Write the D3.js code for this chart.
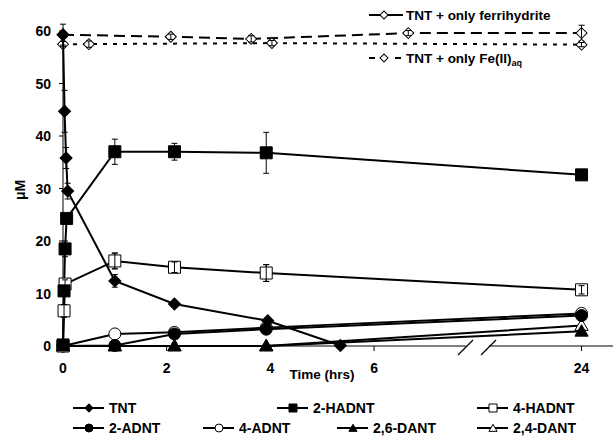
<!DOCTYPE html>
<html>
<head>
<meta charset="utf-8">
<script src="https://cdn.jsdelivr.net/npm/d3@7"></script>
<style>
  body { margin: 0; background: #fff; }
  text { font-family: "Liberation Sans", Arial, sans-serif; font-weight: bold; fill: #000; }
</style>
</head>
<body>
<script>
// time (hrs) and concentrations (uM)
var tntT = [0, 0.03, 0.06, 0.09, 1, 2.15, 3.95, 5.35],
    tntV = [59.3, 44.7, 35.8, 29.5, 12.4, 8.0, 4.8, 0.1],
    tntE = [2, 4, 2, 1.5, 1.2, 0.5, 0.5, 0];

var hadnt2T = [0, 0.02, 0.04, 0.07, 1, 2.15, 3.92, 24],
    hadnt2V = [0.2, 10.5, 18.5, 24.3, 37, 37, 36.8, 32.6],
    hadnt2E = [0, 0.5, 1.5, 0.5, 2.4, 1.6, 3.9, 0.7];

var hadnt4T = [0, 0.02, 0.04, 1, 2.15, 3.92, 24],
    hadnt4V = [0, 6.7, 11.8, 16.2, 15.0, 13.9, 10.7],
    hadnt4E = [0, 1.2, 0.8, 1.5, 1.0, 1.6, 0.8];

var adnt2T = [0, 1, 2.15, 3.92, 24],
    adnt2V = [0, 0.1, 2.3, 3.2, 5.8];
var adnt4T = [0, 1, 2.15, 3.92, 24],
    adnt4V = [0, 2.3, 2.6, 3.5, 6.2];
var dant26T = [0, 1, 2.15, 3.92, 24],
    dant26V = [0, 0, 0, 0, 2.8];
var dant24T = [0, 1, 2.15, 3.92, 24],
    dant24V = [0, 0, 0, 0, 3.9];

var ferriT = [0, 2.08, 3.63, 6.66, 24],
    ferriV = [59.3, 58.9, 58.5, 59.6, 59.6],
    ferriE = [0, 0.5, 0.6, 0.5, 1.5];
var fe2T = [0, 0.5, 4.03, 24],
    fe2V = [57.5, 57.5, 57.7, 57.4],
    fe2E = [0.5, 0.6, 0.5, 0.4];

var xTicks = [0, 2, 4, 6, 24],
    yTicks = [0, 10, 20, 30, 40, 50, 60];

var W = 613, H = 439;
var svg = d3.select("body").append("svg").attr("width", W).attr("height", H);

// broken time axis: 0..7.6 h linear, jump, then 22.35..24.6 h
var x = d3.scaleLinear().domain([0, 7.6, 22.35, 24.6]).range([63, 457, 495, 613]);
var y = d3.scaleLinear().domain([0, 60]).range([346, 31]);

function zip(t, v, e) {
    return t.map((d, i) => ({ t: d, v: v[i], e: e ? e[i] : 0 }));
}

var series = [
    { name: "TNT", data: zip(tntT, tntV, tntE), shape: "diamond", fill: "#000" },
    { name: "2-HADNT", data: zip(hadnt2T, hadnt2V, hadnt2E), shape: "square", fill: "#000" },
    { name: "4-HADNT", data: zip(hadnt4T, hadnt4V, hadnt4E), shape: "square", fill: "#fff" },
    { name: "2-ADNT", data: zip(adnt2T, adnt2V), shape: "circle", fill: "#000" },
    { name: "4-ADNT", data: zip(adnt4T, adnt4V), shape: "circle", fill: "#fff" },
    { name: "2,6-DANT", data: zip(dant26T, dant26V), shape: "triangle", fill: "#000" },
    { name: "2,4-DANT", data: zip(dant24T, dant24V), shape: "triangle", fill: "#fff" }
];
var controls = [
    { name: "ferri", data: zip(ferriT, ferriV, ferriE), dash: "11,6" },
    { name: "fe2", data: zip(fe2T, fe2V, fe2E), dash: "4,6" }
];

function marker(g, shape, fill, s) {
    var p;
    if (shape == "diamond") {
        p = g.append("path").attr("d", d3.symbol(d3.symbolSquare, s * s * 0.5)())
            .attr("transform", "rotate(45)");
    } else if (shape == "square") {
        p = g.append("path").attr("d", d3.symbol(d3.symbolSquare, s * s)());
    } else if (shape == "circle") {
        p = g.append("circle").attr("r", s / 2);
    } else {
        p = g.append("path").attr("d", d3.symbol(d3.symbolTriangle, s * s * 0.45)())
            .attr("transform", "translate(0,1)");
    }
    p.attr("fill", fill).attr("stroke", "#000").attr("stroke-width", 1);
}

function errBar(g, d) {
    if (!d.e) return;
    var y0 = y(d.v + d.e) - y(d.v), y1 = y(d.v - d.e) - y(d.v);
    g.append("line").attr("y1", y0).attr("y2", y1);
    g.append("line").attr("x1", -3).attr("x2", 3).attr("y1", y0).attr("y2", y0);
    g.append("line").attr("x1", -3).attr("x2", 3).attr("y1", y1).attr("y2", y1);
    g.selectAll("line").attr("stroke", "#000").attr("stroke-width", 1);
}

var line = d3.line().x(d => x(d.t)).y(d => y(d.v));

// axes
var ax = svg.append("g");
ax.append("line").attr("x1", x(0)).attr("x2", x(0)).attr("y1", y(0)).attr("y2", y(60))
    .attr("stroke", "#000").attr("stroke-width", 1);
var bx1 = x(7.6) + 9, bx2 = x(22.35) - 6;
ax.append("line").attr("x1", x(0)).attr("x2", bx1).attr("y1", y(0)).attr("y2", y(0))
    .attr("stroke", "#000");
ax.append("line").attr("x1", bx2).attr("x2", x(24.6)).attr("y1", y(0)).attr("y2", y(0))
    .attr("stroke", "#000");
[bx1, bx2].forEach(bx => {
    ax.append("line").attr("x1", bx - 8).attr("y1", y(0) + 9).attr("x2", bx + 7).attr("y2", y(0) - 6)
        .attr("stroke", "#000").attr("stroke-width", 1.2);
});

ax.selectAll(".xt").data(xTicks).enter().append("line")
    .attr("x1", d => x(d)).attr("x2", d => x(d)).attr("y1", y(0)).attr("y2", y(0) + 5)
    .attr("stroke", "#000");
ax.selectAll(".xl").data(xTicks).enter().append("text")
    .attr("x", d => x(d)).attr("y", y(0) + 27).attr("text-anchor", "middle")
    .attr("font-size", 14).text(d => d);
ax.selectAll(".yt").data(yTicks).enter().append("line")
    .attr("x1", x(0) - 4).attr("x2", x(0)).attr("y1", d => y(d)).attr("y2", d => y(d))
    .attr("stroke", "#000");
ax.selectAll(".yl").data(yTicks).enter().append("text")
    .attr("x", 51).attr("y", d => y(d) + 5).attr("text-anchor", "end")
    .attr("font-size", 14).text(d => d);

svg.append("text").attr("x", 322).attr("y", 379).attr("text-anchor", "middle")
    .attr("font-size", 13.5).text("Time (hrs)");
svg.append("text").attr("transform", "translate(25,190) rotate(-90)")
    .attr("text-anchor", "middle").attr("font-size", 14).text("\u03bcM");

// controls (dashed)
controls.forEach(c => {
    svg.append("path").attr("d", line(c.data)).attr("fill", "none")
        .attr("stroke", "#000").attr("stroke-width", 2).attr("stroke-dasharray", c.dash);
});
controls.forEach(c => {
    c.data.forEach(d => {
        var g = svg.append("g").attr("transform", "translate(" + [x(d.t), y(d.v)] + ")");
        marker(g, "diamond", "#fff", 11);
        errBar(g, d);
    });
});

// main series
series.forEach(s => {
    svg.append("path").attr("d", line(s.data)).attr("fill", "none")
        .attr("stroke", "#000").attr("stroke-width", 2);
});
series.slice().reverse().forEach(s => {
    var sz = s.shape == "triangle" ? 13 : 12;
    s.data.forEach(d => {
        var g = svg.append("g").attr("transform", "translate(" + [x(d.t), y(d.v)] + ")");
        errBar(g, d);
        marker(g, s.shape, s.fill, sz);
        if (s.fill == "#fff") errBar(g, d);
    });
});

// top-right legend
var tl = [
    { label: "TNT + only ferrihydrite", dash: null, yy: 15 },
    { label: "TNT + only Fe(II)", sub: "aq", dash: "6,20,6", yy: 58 }
];
tl.forEach(l => {
    var g = svg.append("g").attr("transform", "translate(368," + l.yy + ")");
    g.append("line").attr("x1", 1).attr("x2", 35).attr("stroke", "#000").attr("stroke-width", 2)
        .attr("stroke-dasharray", l.dash);
    var m = g.append("g").attr("transform", "translate(16,0)");
    marker(m, "diamond", "#fff", 8);
    var t = g.append("text").attr("x", 38).attr("y", 5).attr("font-size", 13.5).text(l.label);
    if (l.sub) t.append("tspan").attr("font-size", 9).attr("dy", 3).text(l.sub);
});

// bottom legend
var leg = [
    { i: 0, lx: 73, ly: 408 }, { i: 1, lx: 277, ly: 408 }, { i: 2, lx: 477, ly: 408 },
    { i: 3, lx: 73, ly: 428 }, { i: 4, lx: 203, ly: 428 }, { i: 5, lx: 337, ly: 428 },
    { i: 6, lx: 477, ly: 428 }
];
leg.forEach(l => {
    var s = series[l.i];
    var g = svg.append("g").attr("transform", "translate(" + [l.lx, l.ly] + ")");
    g.append("line").attr("x1", 0).attr("x2", 31).attr("stroke", "#000").attr("stroke-width", 2);
    var m = g.append("g").attr("transform", "translate(16,0)");
    marker(m, s.shape, s.fill, 8);
    g.append("text").attr("x", 36).attr("y", 5).attr("font-size", 14).text(s.name);
});
</script>
</body>
</html>
